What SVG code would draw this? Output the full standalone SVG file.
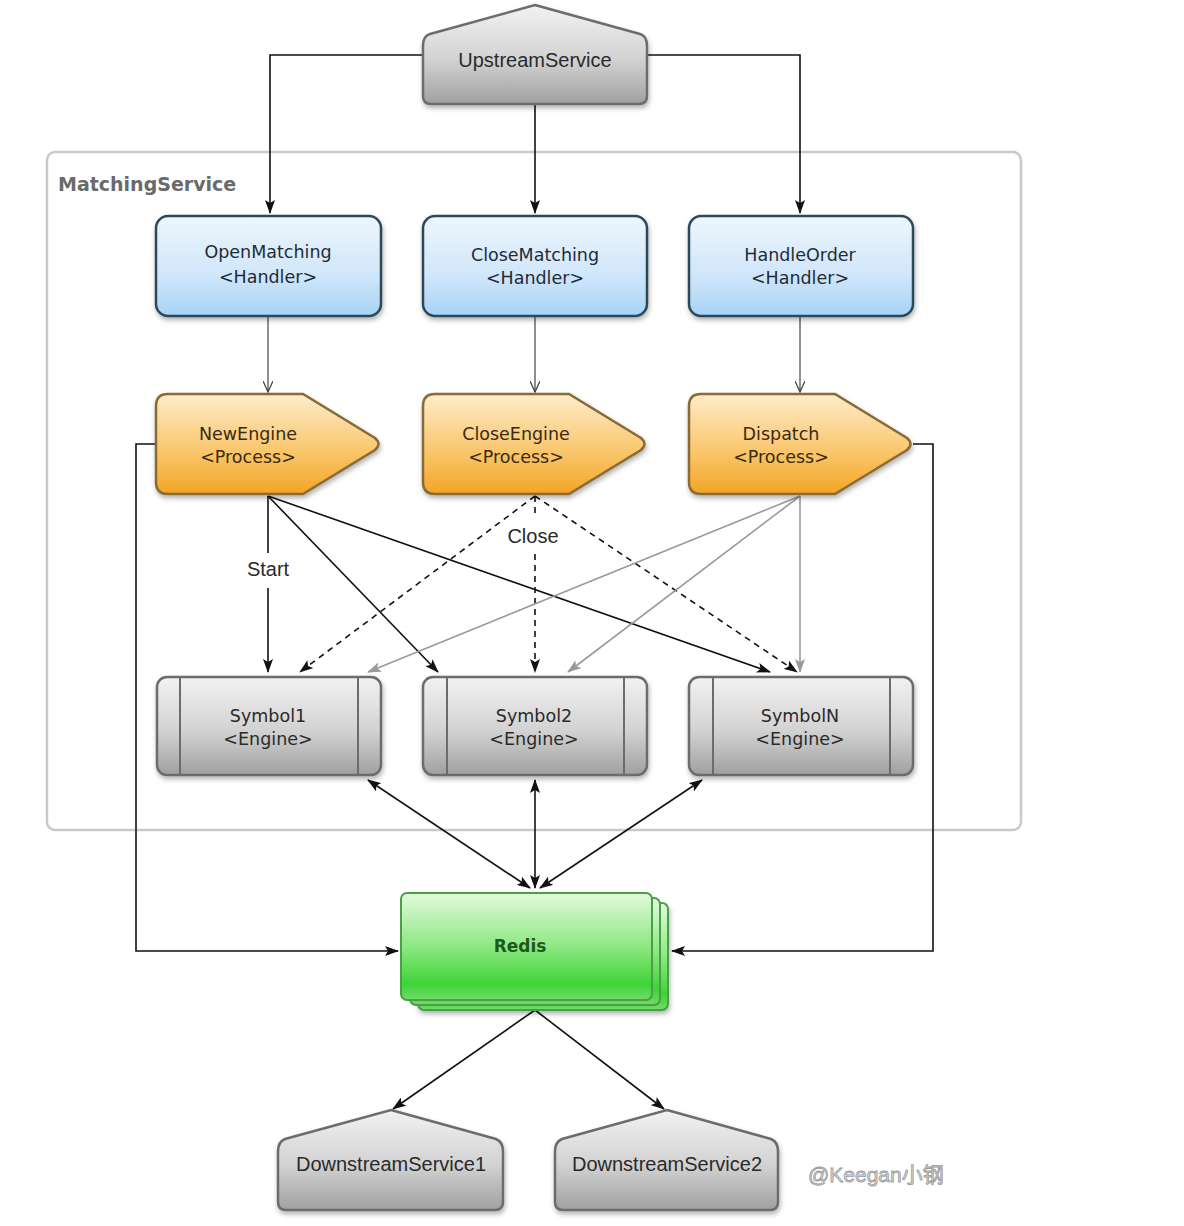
<svg xmlns="http://www.w3.org/2000/svg" width="1184" height="1226" viewBox="0 0 1184 1226">
<defs>
<linearGradient id="gGray" x1="0" y1="0" x2="0" y2="1">
<stop offset="0" stop-color="#f2f2f2"/><stop offset="0.55" stop-color="#d2d2d2"/><stop offset="1" stop-color="#a0a0a0"/>
</linearGradient>
<linearGradient id="gBlue" x1="0" y1="0" x2="0" y2="1">
<stop offset="0" stop-color="#eef6fd"/><stop offset="0.6" stop-color="#cfe6fa"/><stop offset="1" stop-color="#a8d2f6"/>
</linearGradient>
<linearGradient id="gOrange" x1="0" y1="0" x2="0" y2="1">
<stop offset="0" stop-color="#fdeccb"/><stop offset="0.55" stop-color="#fac870"/><stop offset="1" stop-color="#f3a526"/>
</linearGradient>
<linearGradient id="gGreen" x1="0" y1="0" x2="0" y2="1">
<stop offset="0" stop-color="#e2fadc"/><stop offset="0.5" stop-color="#8ee884"/><stop offset="0.85" stop-color="#3fd337"/><stop offset="1" stop-color="#6fdc68"/>
</linearGradient>
<filter id="sh" x="-10%" y="-10%" width="125%" height="130%">
<feDropShadow dx="1" dy="3" stdDeviation="2.5" flood-color="#000" flood-opacity="0.3"/>
</filter>
<marker id="ah" viewBox="0 0 14 10" refX="13" refY="5" markerWidth="14" markerHeight="10" markerUnits="userSpaceOnUse" orient="auto-start-reverse">
<path d="M0,0 L14,5 L0,10 L3,5 Z" fill="#111"/>
</marker>
<marker id="ahg" viewBox="0 0 14 10" refX="13" refY="5" markerWidth="14" markerHeight="10" markerUnits="userSpaceOnUse" orient="auto-start-reverse">
<path d="M0,0 L14,5 L0,10 L3,5 Z" fill="#9a9a9a"/>
</marker>
<marker id="aho" viewBox="0 0 12 10" refX="11" refY="5" markerWidth="12" markerHeight="10" markerUnits="userSpaceOnUse" orient="auto">
<path d="M0,0 L11,5 L0,10" fill="none" stroke="#444" stroke-width="1.3"/>
</marker>
</defs>
<style>
.nt{font-family:"DejaVu Sans","Noto Sans",sans-serif;font-size:17.5px;text-anchor:middle}
.st{font-family:"Liberation Sans",Arial,sans-serif;font-size:20px;text-anchor:middle;fill:#2a2a2a}
.gray{fill:url(#gGray);stroke:#6c6c6c;stroke-width:2.5}
.blue{fill:url(#gBlue);stroke:#2c4a5a;stroke-width:2.5}
.orange{fill:url(#gOrange);stroke:#8a6a36;stroke-width:2.5}
.green{fill:url(#gGreen);stroke:#4c9e48;stroke-width:2}
.ln{fill:none;stroke:#111;stroke-width:1.6}
.lg{fill:none;stroke:#9a9a9a;stroke-width:1.6}
.ld{fill:none;stroke:#111;stroke-width:1.6;stroke-dasharray:6 5}
.lt{fill:none;stroke:#444;stroke-width:1.2}
</style>
<rect width="1184" height="1226" fill="#ffffff"/>

<g id="MatchingService">
<rect x="47" y="152" width="974" height="678" rx="8" fill="none" stroke="#c9c9c9" stroke-width="2.5"/>
<text x="58" y="191" font-family="DejaVu Sans,sans-serif" font-size="19px" font-weight="bold" fill="#6a6a6a">MatchingService</text>
</g>

<g id="connectors">
<polyline class="ln" points="423,55 270,55 270,213" marker-end="url(#ah)"/>
<line class="ln" x1="535" y1="105" x2="535" y2="213" marker-end="url(#ah)"/>
<polyline class="ln" points="647,55 800,55 800,213" marker-end="url(#ah)"/>
<line class="lt" x1="268" y1="317" x2="268" y2="392" marker-end="url(#aho)"/>
<line class="lt" x1="535" y1="317" x2="535" y2="392" marker-end="url(#aho)"/>
<line class="lt" x1="800" y1="317" x2="800" y2="392" marker-end="url(#aho)"/>
<polyline class="ln" points="156,444 136,444 136,951 398,951" marker-end="url(#ah)"/>
<polyline class="ln" points="913,444 933,444 933,951 672,951" marker-end="url(#ah)"/>
<line class="ln" x1="268" y1="496" x2="268" y2="553"/>
<line class="ln" x1="268" y1="588" x2="268" y2="672" marker-end="url(#ah)"/>
<text class="st" x="268" y="576">Start</text>
<line class="ln" x1="268" y1="496" x2="438" y2="672" marker-end="url(#ah)"/>
<line class="ln" x1="268" y1="496" x2="770" y2="672" marker-end="url(#ah)"/>
<line class="ld" x1="535" y1="496" x2="300" y2="672" marker-end="url(#ah)"/>
<line class="ld" x1="535" y1="496" x2="535" y2="518"/>
<line class="ld" x1="535" y1="554" x2="535" y2="672" marker-end="url(#ah)"/>
<text class="st" x="533" y="543">Close</text>
<line class="ld" x1="535" y1="496" x2="797" y2="672" marker-end="url(#ah)"/>
<line class="lg" x1="800" y1="496" x2="368" y2="672" marker-end="url(#ahg)"/>
<line class="lg" x1="800" y1="496" x2="568" y2="672" marker-end="url(#ahg)"/>
<line class="lg" x1="800" y1="496" x2="800" y2="672" marker-end="url(#ahg)"/>
<line class="ln" x1="368" y1="780" x2="530" y2="888" marker-start="url(#ah)" marker-end="url(#ah)"/>
<line class="ln" x1="535" y1="780" x2="535" y2="888" marker-start="url(#ah)" marker-end="url(#ah)"/>
<line class="ln" x1="702" y1="780" x2="540" y2="888" marker-start="url(#ah)" marker-end="url(#ah)"/>
<line class="ln" x1="535" y1="1010" x2="393" y2="1109" marker-end="url(#ah)"/>
<line class="ln" x1="535" y1="1010" x2="664" y2="1109" marker-end="url(#ah)"/>
</g>

<g id="UpstreamService">
<path class="gray" filter="url(#sh)" d="M535 5 L640 34 Q647 36 647 46 L647 96 Q647 104 639 104 L431 104 Q423 104 423 96 L423 46 Q423 36 430 34 Z"/>
<text class="st" x="535" y="67">UpstreamService</text>
</g>

<g id="OpenMatching">
<rect class="blue" filter="url(#sh)" x="156" y="216" width="225" height="100" rx="12"/>
<text class="nt" fill="#1f2c36" x="268" y="258">OpenMatching</text>
<text class="nt" fill="#1f2c36" x="268" y="283">&lt;Handler&gt;</text>
</g>
<g id="CloseMatching">
<rect class="blue" filter="url(#sh)" x="423" y="216" width="224" height="100" rx="12"/>
<text class="nt" fill="#1f2c36" x="535" y="261">CloseMatching</text>
<text class="nt" fill="#1f2c36" x="535" y="284">&lt;Handler&gt;</text>
</g>
<g id="HandleOrder">
<rect class="blue" filter="url(#sh)" x="689" y="216" width="224" height="100" rx="12"/>
<text class="nt" fill="#1f2c36" x="800" y="261">HandleOrder</text>
<text class="nt" fill="#1f2c36" x="800" y="284">&lt;Handler&gt;</text>
</g>

<g id="NewEngine">
<path class="orange" filter="url(#sh)" d="M168 394 L303 394 L375 438 Q382 444 375 450 L303 494 L168 494 Q156 494 156 482 L156 406 Q156 394 168 394 Z"/>
<text class="nt" fill="#3a2a12" x="248" y="440">NewEngine</text>
<text class="nt" fill="#3a2a12" x="248" y="463">&lt;Process&gt;</text>
</g>
<g id="CloseEngine">
<path class="orange" filter="url(#sh)" d="M435 394 L569 394 L641 438 Q648 444 641 450 L569 494 L435 494 Q423 494 423 482 L423 406 Q423 394 435 394 Z"/>
<text class="nt" fill="#3a2a12" x="516" y="440">CloseEngine</text>
<text class="nt" fill="#3a2a12" x="516" y="463">&lt;Process&gt;</text>
</g>
<g id="Dispatch">
<path class="orange" filter="url(#sh)" d="M701 394 L835 394 L907 438 Q914 444 907 450 L835 494 L701 494 Q689 494 689 482 L689 406 Q689 394 701 394 Z"/>
<text class="nt" fill="#3a2a12" x="781" y="440">Dispatch</text>
<text class="nt" fill="#3a2a12" x="781" y="463">&lt;Process&gt;</text>
</g>

<g id="Symbol1">
<rect class="gray" filter="url(#sh)" x="157" y="677" width="224" height="98" rx="10"/>
<line x1="180" y1="678" x2="180" y2="774" stroke="#6c6c6c" stroke-width="2"/>
<line x1="358" y1="678" x2="358" y2="774" stroke="#6c6c6c" stroke-width="2"/>
<text class="nt" fill="#2a2a2a" x="268" y="722">Symbol1</text>
<text class="nt" fill="#2a2a2a" x="268" y="745">&lt;Engine&gt;</text>
</g>
<g id="Symbol2">
<rect class="gray" filter="url(#sh)" x="423" y="677" width="224" height="98" rx="10"/>
<line x1="447" y1="678" x2="447" y2="774" stroke="#6c6c6c" stroke-width="2"/>
<line x1="624" y1="678" x2="624" y2="774" stroke="#6c6c6c" stroke-width="2"/>
<text class="nt" fill="#2a2a2a" x="534" y="722">Symbol2</text>
<text class="nt" fill="#2a2a2a" x="534" y="745">&lt;Engine&gt;</text>
</g>
<g id="SymbolN">
<rect class="gray" filter="url(#sh)" x="689" y="677" width="224" height="98" rx="10"/>
<line x1="713" y1="678" x2="713" y2="774" stroke="#6c6c6c" stroke-width="2"/>
<line x1="890" y1="678" x2="890" y2="774" stroke="#6c6c6c" stroke-width="2"/>
<text class="nt" fill="#2a2a2a" x="800" y="722">SymbolN</text>
<text class="nt" fill="#2a2a2a" x="800" y="745">&lt;Engine&gt;</text>
</g>

<g id="Redis">
<rect class="green" filter="url(#sh)" x="418" y="903" width="250" height="107" rx="6"/>
<rect class="green" x="410" y="898" width="250" height="107" rx="6"/>
<rect class="green" x="401" y="893" width="251" height="107" rx="6"/>
<text x="520" y="952" font-family="DejaVu Sans,sans-serif" font-size="17px" font-weight="bold" text-anchor="middle" fill="#1d5a1a">Redis</text>
</g>

<g id="DownstreamService1">
<path class="gray" filter="url(#sh)" d="M391 1110 L496 1139 Q503 1142 503 1151 L503 1202 Q503 1210 495 1210 L286 1210 Q278 1210 278 1202 L278 1151 Q278 1142 285 1139 Z"/>
<text class="st" x="391" y="1171">DownstreamService1</text>
</g>
<g id="DownstreamService2">
<path class="gray" filter="url(#sh)" d="M667 1110 L771 1139 Q778 1142 778 1151 L778 1202 Q778 1210 770 1210 L563 1210 Q555 1210 555 1202 L555 1151 Q555 1142 562 1139 Z"/>
<text class="st" x="667" y="1171">DownstreamService2</text>
</g>

<text x="808" y="1182" font-family="Liberation Sans,'Noto Sans CJK SC',sans-serif" font-size="21px" fill="#d8d8d8" stroke="#9a9a9a" stroke-width="0.8">@Keegan小钢</text>
</svg>
